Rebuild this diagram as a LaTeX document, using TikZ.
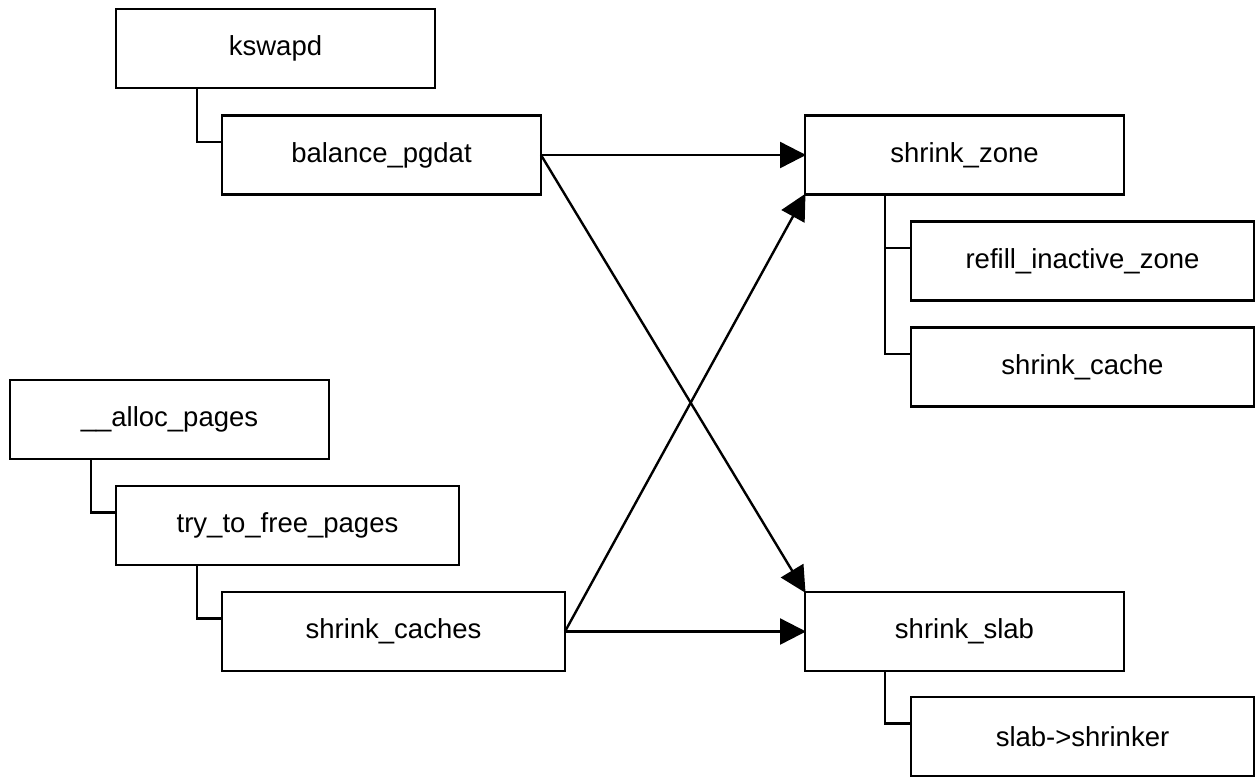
\documentclass[tikz,border=0pt]{standalone}
\usepackage{fontspec}
\setmainfont{Liberation Sans}
\usetikzlibrary{arrows.meta,calc}
\tikzset{
  fn/.style={draw=black, line width=2.4pt, fill=white, anchor=north west, outer sep=0pt, inner sep=0pt,
    minimum height=79pt, font=\fontsize{27.5}{33}\selectfont},
  narrow/.style={fn, minimum width=319pt},
  wide/.style={fn, minimum width=343pt},
  tree/.style={line width=2.4pt},
  call/.style={line width=2.4pt, -{Triangle[length=26pt,width=26pt]}, shorten >=-1pt},
}
\begin{document}
\begin{tikzpicture}[x=1pt,y=-1pt]
\useasboundingbox (0,0) rectangle (1255,777);
% left upper tree
\node[narrow] (ksw) at (116,9) {kswapd};
\node[narrow] (bal) at (222,115.5) {balance\_pgdat};
% left lower tree
\node[narrow] (ap) at (10,380) {\_\_alloc\_pages};
\node[wide] (tf) at (116,486) {try\_to\_free\_pages};
\node[wide] (scs) at (222,592) {shrink\_caches};
% right upper tree
\node[narrow] (sz) at (805,115.5) {shrink\_zone};
\node[wide] (ri) at (911,221.5) {refill\_inactive\_zone};
\node[wide] (sc) at (911,327.5) {shrink\_cache};
% right lower tree
\node[narrow] (ss) at (805,592) {shrink\_slab};
\node[wide] (sls) at (911,697) {slab->shrinker};
% tree connectors
\draw[tree] (ksw.south west) ++(81,0) |- ([yshift=-26.5pt]bal.north west);
\draw[tree] (ap.south west) ++(81,0) |- ([yshift=-26.5pt]tf.north west);
\draw[tree] (tf.south west) ++(81,0) |- ([yshift=-26.5pt]scs.north west);
\draw[tree] (sz.south west) ++(80,0) |- ([yshift=-26.5pt]ri.north west);
\draw[tree] (sz.south west) ++(80,0) |- ([yshift=-26.5pt]sc.north west);
\draw[tree] (ss.south west) ++(80,0) |- ([yshift=-26.5pt]sls.north west);
% calls
\draw[call] (bal.east) -- (sz.west);
\draw[call] (bal.east) -- (ss.north west);
\draw[call] (scs.east) -- (sz.south west);
\draw[call] (scs.east) -- (ss.west);
\end{tikzpicture}
\end{document}
